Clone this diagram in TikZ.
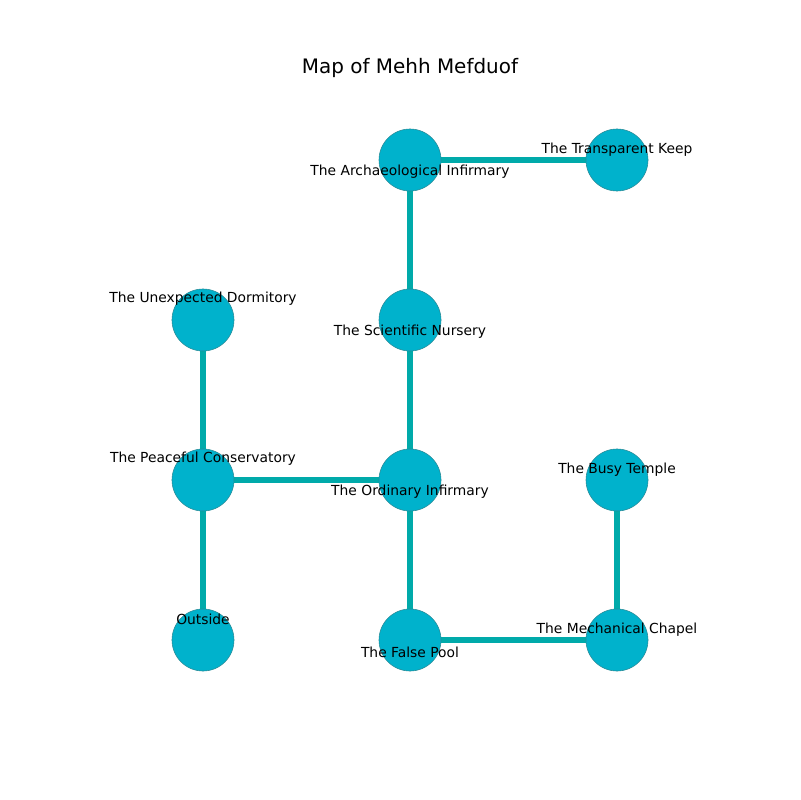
\documentclass[tikz,border=0pt]{standalone}
\usepackage{fontspec}
\setmainfont{DejaVu Sans}
\definecolor{nodefill}{HTML}{00B2CC}
\definecolor{edgecol}{HTML}{00AAAA}
\definecolor{rimcol}{HTML}{2A8A96}
\begin{document}
\begin{tikzpicture}[x=0.01in,y=-0.01in,
  place/.style={circle,fill=nodefill,draw=rimcol,line width=0.4pt,minimum size=0.62in,inner sep=0pt},
  link/.style={edgecol,line width=4pt},
  lab/.style={font=\fontsize{10}{12}\selectfont,inner sep=0pt,anchor=center},
  ttl/.style={font=\fontsize{14.4}{17}\selectfont,inner sep=0pt}]
\useasboundingbox[fill=white] (0,0) rectangle (800,800);
\node[ttl] (title) at (410,68) {Map of Mehh Mefduof};
\coordinate (pA) at (410,160);
\coordinate (pT) at (617,160);
\coordinate (pU) at (203,320);
\coordinate (pS) at (410,320);
\coordinate (pP) at (203,480);
\coordinate (pO) at (410,480);
\coordinate (pB) at (617,480);
\coordinate (pX) at (203,640);
\coordinate (pF) at (410,640);
\coordinate (pM) at (617,640);
\draw[link] (pA) -- (pT);
\draw[link] (pA) -- (pS);
\draw[link] (pS) -- (pO);
\draw[link] (pU) -- (pP);
\draw[link] (pP) -- (pO);
\draw[link] (pP) -- (pX);
\draw[link] (pO) -- (pF);
\draw[link] (pF) -- (pM);
\draw[link] (pB) -- (pM);
\node[place] (A) at (pA) {};
\node[place] (T) at (pT) {};
\node[place] (U) at (pU) {};
\node[place] (S) at (pS) {};
\node[place] (P) at (pP) {};
\node[place] (O) at (pO) {};
\node[place] (B) at (pB) {};
\node[place] (X) at (pX) {};
\node[place] (F) at (pF) {};
\node[place] (M) at (pM) {};
\node[lab] (lA) at (410,172) {The Archaeological Infirmary};
\node[lab] (lT) at (617,150) {The Transparent Keep};
\node[lab] (lU) at (203,299) {The Unexpected Dormitory};
\node[lab] (lS) at (410,332) {The Scientific Nursery};
\node[lab] (lP) at (203,459) {The Peaceful Conservatory};
\node[lab] (lO) at (410,492) {The Ordinary Infirmary};
\node[lab] (lB) at (617,470) {The Busy Temple};
\node[lab] (lX) at (203,619) {Outside};
\node[lab] (lF) at (410,652) {The False Pool};
\node[lab] (lM) at (617,630) {The Mechanical Chapel};
\end{tikzpicture}
\end{document}
